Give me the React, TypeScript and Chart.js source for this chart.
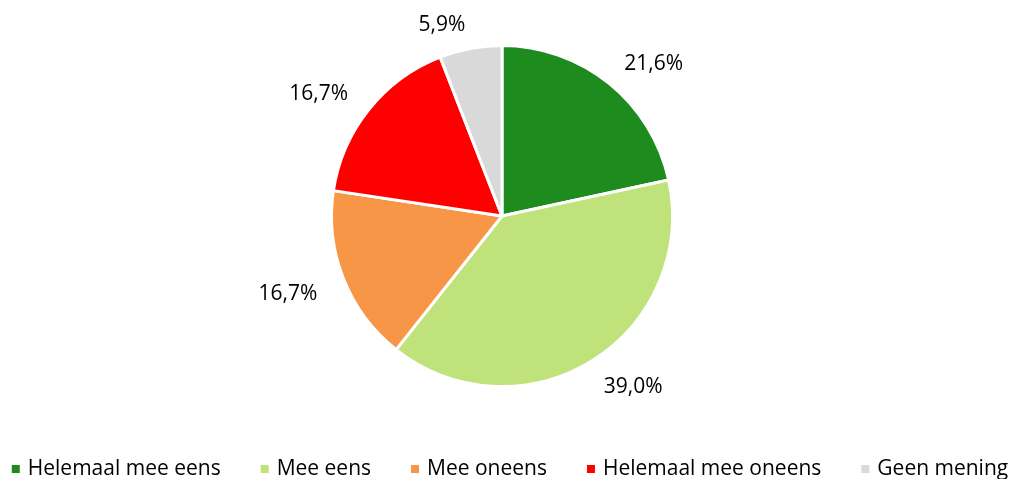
import React, { useEffect, useRef } from "react";
import { Chart, registerables } from "chart.js";

Chart.register(...registerables);

const categories = ["Helemaal mee eens", "Mee eens", "Mee oneens", "Helemaal mee oneens", "Geen mening"];
const values = [21.6, 39.0, 16.7, 16.7, 5.9];
const valueLabels = ["21,6%", "39,0%", "16,7%", "16,7%", "5,9%"];
const colors = ["#1E8B1E", "#C0E27B", "#F79646", "#FF0000", "#D9D9D9"];

const FONT = "'Open Sans', sans-serif";

const labelPlugin = {
  id: "outsideLabels",
  afterDatasetsDraw(chart: any) {
    const ctx = chart.ctx;
    const meta = chart.getDatasetMeta(0);
    ctx.save();
    ctx.font = `21px ${FONT}`;
    ctx.fillStyle = "#000";
    ctx.textAlign = "center";
    ctx.textBaseline = "middle";
    meta.data.forEach((arc: any, i: number) => {
      const p = arc.getProps(["x", "y", "startAngle", "endAngle", "outerRadius"], true);
      const mid = (p.startAngle + p.endAngle) / 2;
      const c = Math.cos(mid);
      const s = Math.sin(mid);
      // Excel-like outside-end placement: label box pushed out beyond the arc
      const lx = p.x + c * (p.outerRadius + 36) + Math.sign(c) * 22;
      const ly = p.y + s * (p.outerRadius + 23) + Math.sign(s) * 4 + 3;
      ctx.fillText(valueLabels[i], lx, ly);
    });
    ctx.restore();
  },
};

const legendPlugin = {
  id: "customLegend",
  afterDraw(chart: any) {
    const ctx = chart.ctx;
    ctx.save();
    ctx.font = `21px ${FONT}`;
    const box = 8;
    const boxGap = 8;
    const gap = 40;
    const widths = categories.map((c) => ctx.measureText(c).width);
    const total = widths.reduce((a, w) => a + box + boxGap + w, 0) + gap * (categories.length - 1);
    let x = (chart.width - total) / 2 + 5;
    const y = 469;
    ctx.textBaseline = "middle";
    ctx.textAlign = "left";
    categories.forEach((c, i) => {
      ctx.fillStyle = colors[i];
      ctx.fillRect(x, y - box / 2, box, box);
      ctx.fillStyle = "#000";
      ctx.fillText(c, x + box + boxGap, y);
      x += box + boxGap + widths[i] + gap;
    });
    ctx.restore();
  },
};

export default function App() {
  const ref = useRef<HTMLCanvasElement>(null);
  useEffect(() => {
    if (!ref.current) return;
    const chart = new Chart(ref.current, {
      type: "pie",
      data: {
        labels: categories,
        datasets: [
          {
            data: values,
            backgroundColor: colors,
            borderColor: "#FFFFFF",
            borderWidth: 3,
          },
        ],
      },
      options: {
        animation: false,
        responsive: false,
        maintainAspectRatio: false,
        layout: { padding: { top: 44, bottom: 91, left: 0, right: 6 } },
        plugins: {
          legend: { display: false },
          tooltip: { enabled: false },
        },
      },
      plugins: [labelPlugin, legendPlugin],
    });
    return () => chart.destroy();
  }, []);
  return (
    <div style={{ position: "fixed", left: 0, top: 0, width: 1010, height: 479, background: "#fff" }}>
      <canvas ref={ref} width={1010} height={479} style={{ width: 1010, height: 479 }} />
    </div>
  );
}
